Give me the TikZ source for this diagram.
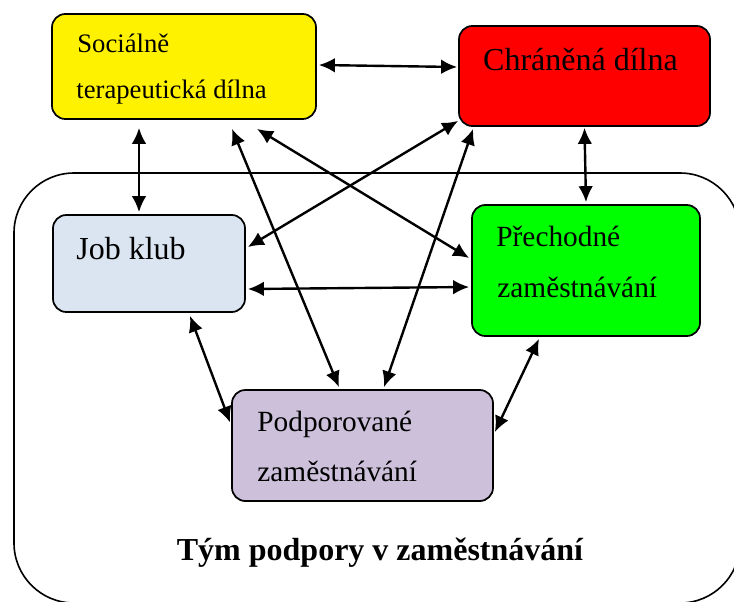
\documentclass[tikz,border=0pt]{standalone}
\usepackage{fontspec}
\setmainfont{Liberation Serif}
\usepackage{tikz}
\usetikzlibrary{arrows.meta}
\definecolor{jobblue}{RGB}{219,229,241}
\definecolor{podlila}{RGB}{204,192,218}

\begin{document}
\begin{tikzpicture}[x=0.75pt,y=-0.75pt,
    box/.style={draw,line width=1.3pt,rounded corners=10pt,inner sep=0pt},
    txt/.style={inner sep=0pt,anchor=base west},
    link/.style={{Latex[length=12pt,width=11pt]}-{Latex[length=12pt,width=11pt]},line width=1.8pt}]
                      \useasboundingbox (0,0) rectangle (734,601);
                      \draw[line width=1.2pt,rounded corners=45pt] (14,173) rectangle (740,603);
                      % boxes
                      \node[box,fill=yellow,minimum width=198pt,minimum height=78.75pt](soc)at(184,66.5){};
                      \node[box,fill=red,minimum width=188.25pt,minimum height=75pt](chd)at(584.5,76){};
                      \node[box,fill=jobblue,minimum width=144pt,minimum height=72.75pt](job)at(149,263.5){};
                      \node[box,fill=green,minimum width=171pt,minimum height=98.25pt](prz)at(586,270.5){};
                      \node[box,fill=podlila,minimum width=195.75pt,minimum height=83.25pt](pod)at(362.5,445.5){};
                      % texts
                      \node[txt,font=\fontsize{20}{24}\selectfont](soca)at([shift={(26,39)}]soc.north west){Sociálně};
                      \node[txt,font=\fontsize{20}{24}\selectfont](socb)at([shift={(25,85)}]soc.north west){terapeutická dílna};
                      \node[txt,anchor=base,font=\fontsize{24}{28}\selectfont](chdt)at([shift={(-4,45)}]chd.north){Chráněná dílna};
                      \node[txt,font=\fontsize{24}{28}\selectfont](jobt)at([shift={(24,45)}]job.north west){Job klub};
                      \node[txt,font=\fontsize{22}{26}\selectfont](prza)at([shift={(25,42)}]prz.north west){Přechodné};
                      \node[txt,font=\fontsize{22}{26}\selectfont](przb)at([shift={(26,93)}]prz.north west){zaměstnávání};
                      \node[txt,font=\fontsize{22}{26}\selectfont](poda)at([shift={(26,42)}]pod.north west){Podporované};
                      \node[txt,font=\fontsize{22}{26}\selectfont](podb)at([shift={(26,92)}]pod.north west){zaměstnávání};
                      \node[txt,anchor=base,font=\fontsize{24}{28}\selectfont\bfseries](tym)at(380,560){Tým podpory v zaměstnávání};
                      % links
                      \draw[link] ([shift={(2,-1.5)}]soc.east) -- ([shift={(-1,-9)}]chd.west);
                      \draw[link] ([shift={(-45,8)}]soc.south) -- ([shift={(-10,-2)}]job.north);
                      \draw[link] ([shift={(0,1)}]chd.south) -- ([shift={(0,-2)}]prz.north);
                      \draw[link] ([shift={(2,25.5)}]job.east) -- ([shift={(-2,16.5)}]prz.west);
                      \draw[link] ([shift={(73,9)}]soc.south) -- ([shift={(-2,-12.5)}]prz.west);
                      \draw[link] ([shift={(2,-16.5)}]job.east) -- ([shift={(0,-6)}]chd.south west);
                      \draw[link] ([shift={(48,9)}]soc.south) -- ([shift={(-23.5,-2)}]pod.north);
                      \draw[link] ([shift={(15,2)}]chd.south west) -- ([shift={(21.5,-2)}]pod.north);
                      \draw[link] ([shift={(41,3)}]job.south) -- ([shift={(-1,-23)}]pod.west);
                      \draw[link] ([shift={(-47,2)}]prz.south) -- ([shift={(1,-13.5)}]pod.east);
                  \end{tikzpicture}
\end{document}
